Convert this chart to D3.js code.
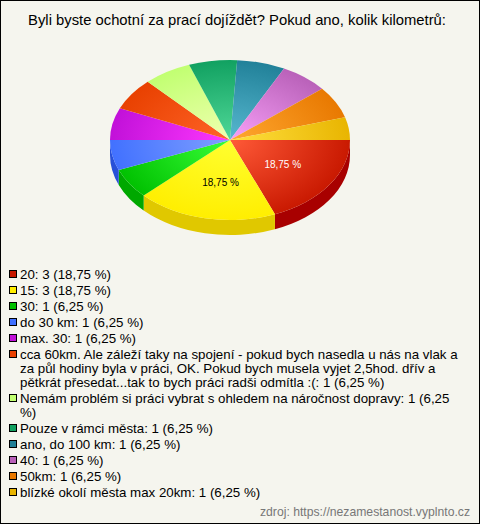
<!DOCTYPE html>
<html><head><meta charset="utf-8">
<script src="https://cdn.jsdelivr.net/npm/d3@7"></script>
<style>html,body{margin:0;padding:0;background:#fff}svg{display:block}text{font-family:"Liberation Sans",Arial,sans-serif}</style>
</head><body><div id="c"></div>
<script>
const title = "Byli byste ochotní za prací dojíždět? Pokud ano, kolik kilometrů:";
const source = "zdroj: https://nezamestanost.vyplnto.cz";
const categories = ["20","15","30","do 30 km","max. 30","cca 60km","Nemám","Pouze","ano","40","50km","blízké"];
const values = [3,3,1,1,1,1,1,1,1,1,1,1];
const sliceLabels = ["18,75 %","18,75 %","","","","","","","","","",""];
const labelColors = ["#fff","#000"];
const baseColors = ["#c81800","#ffee00","#00c000","#4070ff","#c010d8","#e84000","#c0ff70","#10a060","#208098","#b860b8","#e87800","#e8b400"];
const lightColors = ["#ff5a38","#ffff30","#38ff38","#80a0ff","#ff38ff","#ff6428","#f0ffb0","#50d898","#58b8d0","#f8a0f8","#ffa830","#ffe040"];
const sideColors = ["#a80000","#e0c800","#00a800","#2850d8"];
const legendLines = [
 [0,"20: 3 (18,75 %)",279],[1,"15: 3 (18,75 %)",295],[2,"30: 1 (6,25 %)",311],[3,"do 30 km: 1 (6,25 %)",327],[4,"max. 30: 1 (6,25 %)",343],
 [5,"cca 60km. Ale záleží taky na spojení - pokud bych nasedla u nás na vlak a",359],[-1,"za půl hodiny byla v práci, OK. Pokud bych musela vyjet 2,5hod. dřív a",373],[-1,"pětkrát přesedat...tak to bych práci radši odmítla :(: 1 (6,25 %)",387],
 [6,"Nemám problém si práci vybrat s ohledem na náročnost dopravy: 1 (6,25",403],[-1,"%)",417],
 [7,"Pouze v rámci města: 1 (6,25 %)",433],[8,"ano, do 100 km: 1 (6,25 %)",449],[9,"40: 1 (6,25 %)",465],[10,"50km: 1 (6,25 %)",481],[11,"blízké okolí města max 20km: 1 (6,25 %)",497]
];
const W=480,H=524,cx=230,cy=140,rx=120,ry=80,depth=15;
const svg=d3.select("#c").append("svg").attr("width",W).attr("height",H);
svg.append("rect").attr("x",.5).attr("y",.5).attr("width",W-1).attr("height",H-1).attr("fill","#f5f5ee").attr("stroke","#000");
svg.append("text").attr("x",237).attr("y",25).attr("text-anchor","middle").attr("font-size",14.8).text(title);
// tilted-view angle correction seen in the reference (degrees clockwise from east)
const tilt=d3.scaleLinear().domain([0,135,180,337.5,360]).range([0,136,180,343.5,360]);
const rad=Math.PI/180;
const pie=d3.pie().sort(null).startAngle(0).endAngle(2*Math.PI)(values).map(p=>({
  a0:tilt(p.startAngle/rad)*rad, a1:tilt(p.endAngle/rad)*rad, value:p.value, index:p.index,
  startAngle:tilt(p.startAngle/rad)*rad+Math.PI/2, endAngle:tilt(p.endAngle/rad)*rad+Math.PI/2
}));
const arc=d3.arc().innerRadius(0).outerRadius(rx);
const defs=svg.append("defs");
values.forEach((v,i)=>{
  const g=defs.append("radialGradient").attr("id","g"+i).attr("gradientUnits","userSpaceOnUse").attr("cx",0).attr("cy",0).attr("r",rx*1.02);
  g.append("stop").attr("offset",0).attr("stop-color",lightColors[i]);
  g.append("stop").attr("offset",1).attr("stop-color",baseColors[i]);
});
const gp=svg.append("g").attr("transform",`translate(${cx},${cy}) scale(1,${ry/rx})`);
const d=depth*rx/ry;
pie.forEach((p,i)=>{
  const a0=p.a0,a1=Math.min(p.a1,Math.PI);
  if(a0>=Math.PI) return;
  const q=d3.path();
  q.moveTo(rx*Math.cos(a0),rx*Math.sin(a0));
  q.arc(0,0,rx,a0,a1,false);
  q.lineTo(rx*Math.cos(a1),rx*Math.sin(a1)+d);
  q.arc(0,d,rx,a1,a0,true);
  q.closePath();
  gp.append("path").attr("d",q.toString()).attr("fill",sideColors[i]);
});
gp.selectAll("path.s").data(pie).enter().append("path").attr("class","s").attr("d",arc).attr("fill",(p,i)=>`url(#g${i})`);
sliceLabels.forEach((t,i)=>{
  if(!t) return;
  const [x,y]=arc.centroid(pie[i]);
  svg.append("text").attr("x",cx+x+3).attr("y",cy+y*1.05*ry/rx+5).attr("text-anchor","middle").attr("font-size",10).attr("fill",labelColors[i]).text(t);
});
const lg=svg.append("g");
legendLines.forEach(l=>{
  if(l[0]>=0) lg.append("rect").attr("x",9.5).attr("y",l[2]-8.5).attr("width",7).attr("height",7).attr("fill",baseColors[l[0]]).attr("stroke","#000");
  lg.append("text").attr("x",20).attr("y",l[2]).attr("font-size",13.3).text(l[1]);
});
svg.append("text").attr("x",470).attr("y",516).attr("text-anchor","end").attr("font-size",12.2).attr("fill","#777").text(source);
</script></body></html>
